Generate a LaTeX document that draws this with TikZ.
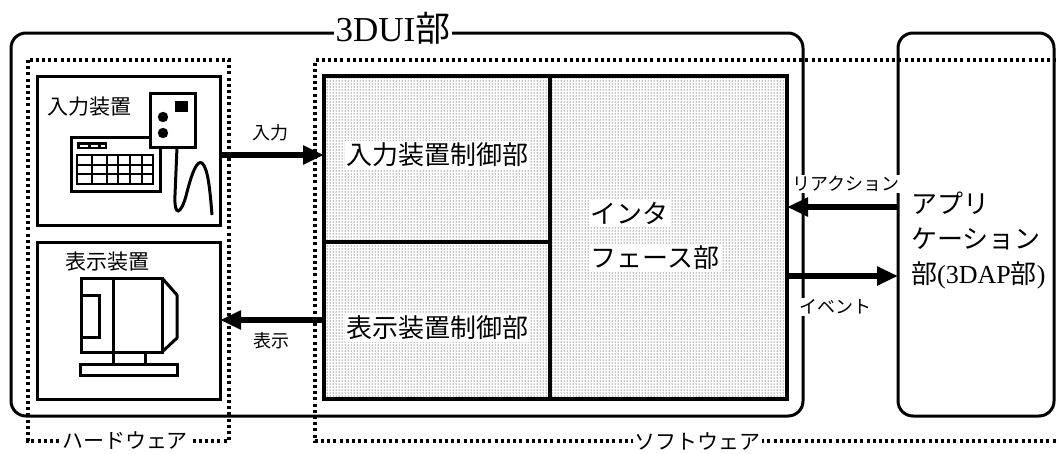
\documentclass[tikz,border=0pt]{standalone}
\usepackage{fontspec}
\setmainfont{Liberation Serif}
\newfontfamily\jp{Noto Sans CJK JP}
\usetikzlibrary{arrows.meta,patterns}

\begin{document}
\begin{tikzpicture}[x=1pt,y=-1pt,
  ln/.style={line width=3pt},
  dotline/.style={line width=3.2pt, dash pattern=on 3pt off 3.2pt},
  bigarrow/.style={line width=6pt,-{Triangle[length=21pt,width=18pt]}},
  box/.style={draw, ln, inner sep=0pt, outer sep=0pt, anchor=north west},
  rbox/.style={box, rounded corners=15pt},
  lbl/.style={font=\fontsize{26}{30}\selectfont\jp, fill=white, inner sep=1.5pt},
  dev/.style={font=\fontsize{21}{24}\selectfont\jp, inner sep=1pt},
  sm/.style={font=\fontsize{18}{20}\selectfont\jp, fill=white, inner sep=1.5pt},
  area/.style={font=\fontsize{21}{24}\selectfont\jp, fill=white, inner sep=1.5pt}
]
\useasboundingbox (0,0) rectangle (1058,453);

% outer frames
\node[rbox, minimum width=792pt, minimum height=383pt] (ui) at (11,33) {};
\node[rbox, minimum width=156pt, minimum height=383pt] (app) at (898,33) {};
\node[font=\fontsize{35}{40}\selectfont, fill=white, inner sep=2pt] (title) at (393,28) {3DUI{\jp 部}};

% hardware / software groups
\draw[dotline] (28,60) rectangle (229,441);
\draw[dotline] (1075,60) -- (315,60) -- (315,441) -- (1075,441);
\node[area] (hw) at (125,441) {ハードウェア};
\node[area] (sw) at (697,441) {ソフトウェア};

% software blocks
\fill[pattern=dots, pattern color=black] (324,76) rectangle (787,399);
\node[box, line width=3.2pt, minimum width=226pt, minimum height=166pt] (inctl) at (324,76) {};
\node[box, line width=3.2pt, minimum width=226pt, minimum height=157pt] (outctl) at (324,242) {};
\node[box, line width=3.2pt, minimum width=237pt, minimum height=323pt] (iface) at (550,76) {};
\node[lbl] (inctlt) at (437,155) {入力装置制御部};
\node[lbl] (outctlt) at (437,328) {表示装置制御部};
\node[lbl, anchor=west] (if1) at (589,213) {インタ};
\node[lbl, anchor=west] (if2) at (589,258) {フェース部};

% hardware blocks
\node[box, fill=white, minimum width=183pt, minimum height=149pt] (inbox) at (37,76) {};
\node[box, fill=white, minimum width=183pt, minimum height=157pt] (outbox) at (37,242) {};
\node[dev] (intxt) at (89,107) {入力装置};
\node[dev] (outtxt) at (107,262) {表示装置};

% keyboard
\draw[ln, fill=white] (71,137) rectangle (160,191);
\fill (77,142) rectangle (107,149);
\fill[white] (79.5,144.5) rectangle (88,146.5);
\fill[white] (91,144.5) rectangle (98,146.5);
\fill[white] (101,144.5) rectangle (104.5,146.5);
\draw[line width=2.4pt] (77,155) rectangle (153,184);
\foreach \kx in {92,107,118,130,142} \draw[line width=2.4pt] (\kx,155) -- (\kx,184);
\foreach \ky in {165,174} \draw[line width=2.4pt] (77,\ky) -- (153,\ky);

% controller with cable
\draw[ln, fill=white] (150,93) rectangle (195,147);
\fill (163,117) circle (5.2pt);
\fill (163,133) circle (5.2pt);
\fill (175,101) rectangle (188,112);
\draw[ln] (177,147) -- (175,195) .. controls (174,218) and (181,214) .. (186,196)
  .. controls (192,172) and (197,160) .. (202,163)
  .. controls (208,168) and (210,190) .. (212,215);

% display
\draw[ln, fill=white] (81,278) rectangle (162,352);
\draw[ln] (81,295) rectangle (99,337);
\draw[ln] (113,278) -- (113,364);
\draw[ln] (145,352) -- (145,364);
\draw[ln, line join=round] (162,278) -- (177,295) -- (177,338) -- (162,352);
\draw[ln, fill=white] (80,364) rectangle (177,375);

% data flows
\coordinate (yin) at (0,155);
\coordinate (yout) at (0,320);
\coordinate (yre) at (0,207);
\coordinate (yev) at (0,276);
\draw[bigarrow] (inbox.east |- yin) -- (inctl.west |- yin);
\draw[bigarrow] (outctl.west |- yout) -- (outbox.east |- yout);
\draw[bigarrow] (app.west |- yre) -- (iface.east |- yre);
\draw[bigarrow] (iface.east |- yev) -- (app.west |- yev);
\node[sm] (lin) at (270,133) {入力};
\node[sm] (lout) at (271,341) {表示};
\node[sm] (lre) at (846,184) {リアクション};
\node[sm] (lev) at (835,307) {イベント};

% application
\node[font=\fontsize{26}{35}\selectfont\jp, align=left, anchor=west, inner sep=0pt] (apptxt) at (911,240)
  {アプリ\\ケーション\\部{\rmfamily(3DAP}部{\rmfamily)}};
\end{tikzpicture}
\end{document}
